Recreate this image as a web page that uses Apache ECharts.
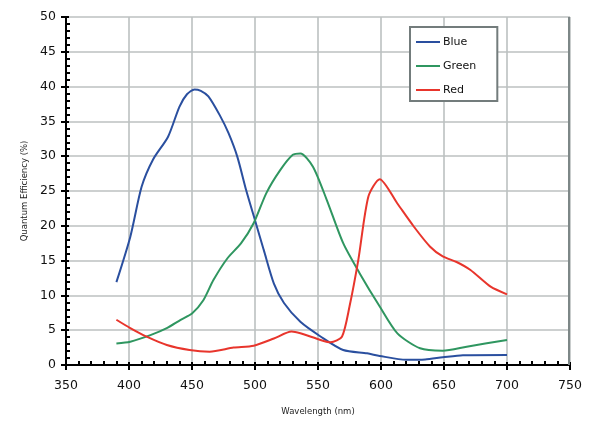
<!DOCTYPE html>
<html><head><meta charset="utf-8">
<script src="https://cdn.jsdelivr.net/npm/echarts@6/dist/echarts.min.js"></script>
<style>html,body{margin:0;padding:0;background:#fff}#c{width:601px;height:425px}</style>
</head><body><div id="c"></div>
<script>
const seriesNames = ['Blue', 'Green', 'Red'];
const blueNm = [390, 401, 410, 419, 431, 440, 446, 452, 457, 463, 472, 479, 486, 493, 500, 507, 515, 523, 536, 552, 570, 589, 599, 620, 635, 649, 665, 700];
const blueQE = [11.9, 18.4, 25.6, 29.5, 32.8, 37.1, 38.9, 39.6, 39.4, 38.6, 35.9, 33.3, 29.9, 25.1, 20.8, 16.5, 11.7, 8.9, 6.2, 4.1, 2.15, 1.68, 1.3, 0.75, 0.8, 1.1, 1.4, 1.44];
const greenNm = [390, 401, 417, 430, 441, 450, 459, 467, 478, 489, 499, 509, 520, 530, 536, 546, 557, 570, 583, 599, 613, 631, 649, 668, 700];
const greenQE = [3.1, 3.35, 4.3, 5.3, 6.5, 7.4, 9.3, 12.2, 15.3, 17.5, 20.4, 24.7, 28.0, 30.2, 30.4, 28.5, 23.7, 17.5, 13.2, 8.4, 4.55, 2.4, 2.06, 2.63, 3.6];
const redNm = [390, 401, 414, 430, 448, 464, 483, 499, 515, 529, 536, 552, 560, 569, 575, 582, 590, 599, 613, 626, 639, 649, 660, 671, 687, 700];
const redQE = [6.5, 5.3, 4.07, 2.87, 2.16, 1.92, 2.5, 2.78, 3.8, 4.8, 4.55, 3.6, 3.26, 4.07, 8.4, 15.1, 24.2, 26.7, 23.2, 19.9, 17.0, 15.6, 14.8, 13.65, 11.25, 10.15];
const colors = ['#2a4f9f', '#2f9660', '#e8352c'];
const xMin = 350, xMax = 750, xStep = 50;
const yMin = 0, yMax = 50, yStep = 5;
const xTitle = 'Wavelength (nm)';
const yTitle = 'Quantum Efficiency (%)';

const pairs = (xs, ys) => xs.map((x, i) => [x, ys[i]]);
const data = [pairs(blueNm, blueQE), pairs(greenNm, greenQE), pairs(redNm, redQE)];
const font = 'DejaVu Sans';
const chart = echarts.init(document.getElementById('c'), null, {renderer: 'canvas'});
chart.setOption({
  animation: false,
  backgroundColor: '#fff',
  grid: {left: 66, right: 31, top: 17, bottom: 60, show: false},
  legend: {
    orient: 'vertical', left: 410, top: 27, data: seriesNames, icon: 'rect',
    itemWidth: 24, itemHeight: 2, itemGap: 10, padding: [8, 21, 4, 6],
    backgroundColor: '#fff', borderColor: '#737c7c', borderWidth: 2,
    textStyle: {fontFamily: font, fontSize: 11, color: '#111', lineHeight: 14, padding: [0, 0, 0, -2]},
  },
  xAxis: [{
    type: 'value', min: xMin, max: xMax, interval: xStep,
    name: xTitle, nameLocation: 'middle', nameGap: 42,
    nameTextStyle: {fontFamily: font, fontSize: 8.5, color: '#222'},
    axisLine: {onZero: false, lineStyle: {color: '#000', width: 2}},
    axisTick: {show: true, inside: false, length: 5, lineStyle: {color: '#000', width: 2}},
    axisLabel: {fontFamily: font, fontSize: 12.5, color: '#111', margin: 14},
    splitLine: {show: true, lineStyle: {color: '#bcc1c1', width: 1.6}},
  }, {
    type: 'value', min: xMin, max: xMax, interval: xStep, position: 'bottom',
    axisLine: {show: false, onZero: false},
    axisTick: {show: true, inside: true, length: 3, lineStyle: {color: '#000', width: 2}},
    minorTick: {show: true, splitNumber: 5, length: 4, lineStyle: {color: '#000', width: 2}},
    axisLabel: {show: false}, splitLine: {show: false},
  }],
  yAxis: [{
    type: 'value', min: yMin, max: yMax, interval: yStep,
    name: yTitle, nameLocation: 'middle', nameGap: 28, nameRotate: 90,
    nameTextStyle: {fontFamily: font, fontSize: 8.5, color: '#222'},
    axisLine: {show: true, onZero: false, lineStyle: {color: '#000', width: 2}},
    axisTick: {show: true, inside: false, length: 5, lineStyle: {color: '#000', width: 2}},
    axisLabel: {fontFamily: font, fontSize: 12.5, color: '#111', margin: 10},
    splitLine: {show: true, lineStyle: {color: '#bcc1c1', width: 1.6}},
  }, {
    type: 'value', min: yMin, max: yMax, interval: yStep, position: 'left',
    axisLine: {show: false, onZero: false},
    axisTick: {show: true, inside: true, length: 3, lineStyle: {color: '#000', width: 2}},
    minorTick: {show: true, splitNumber: 5, length: 4, lineStyle: {color: '#000', width: 2}},
    axisLabel: {show: false}, splitLine: {show: false},
  }],
  series: seriesNames.map((n, i) => ({
    name: n, type: 'line', data: data[i], smooth: 0.25, symbol: 'none',
    xAxisIndex: 0, yAxisIndex: 0,
    lineStyle: {color: colors[i], width: 2}, itemStyle: {color: colors[i]},
  })),
  graphic: [{
    type: 'line', z: 5,
    shape: {x1: 569, y1: 17, x2: 569, y2: 365},
    style: {stroke: '#7d8787', lineWidth: 2}
  }]
});
</script></body></html>
